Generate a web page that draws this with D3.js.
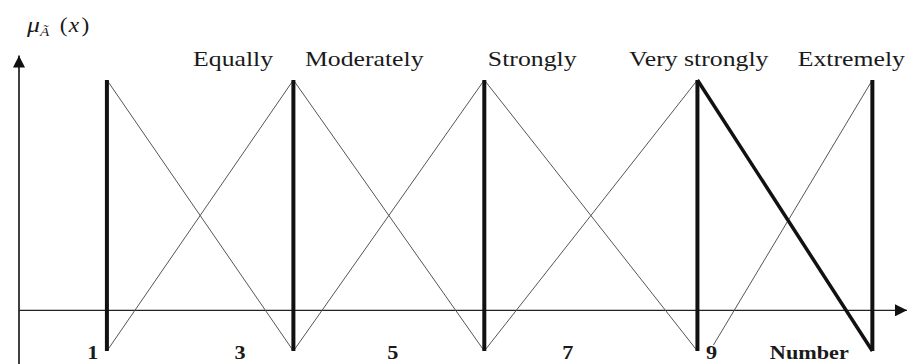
<!DOCTYPE html>
<html>
<head>
<meta charset="utf-8">
<script src="https://cdn.jsdelivr.net/npm/d3@7"></script>
<style>
  body { margin: 0; background: #fff; }
  svg { display: block; }
  text { font-family: "Liberation Serif", "Times New Roman", serif; fill: #1a1a1a; }
</style>
</head>
<body>
<svg id="chart"></svg>
<script>
// peaks of the triangular fuzzy numbers (x units)
const peaks = [0.99, 3.09, 5.24, 7.64, 9.61]
// start of the last rising side (it does not start at the previous peak)
const lastRiseStart = [7.82, 0.022]
// top labels (linguistic terms) and where they begin
const terms = ['Equally', 'Moderately', 'Strongly', 'Very strongly', 'Extremely']
const termX = [1.96, 3.22, 5.28, 6.87, 8.77]
// bottom labels
const numbers = ['1', '3', '5', '7', '9', 'Number']
const numberX = [0.83, 2.49, 4.21, 6.18, 7.80, 8.90]

const width = 908
const height = 364
const stretch = 1.17 // the picture is stretched horizontally

const x = d3.scaleLinear().domain([0, 10]).range([19, 907])
const y = d3.scaleLinear().domain([0, 1]).range([351, 80])
const axisLevel = 0.15 // membership value where the x axis is drawn

const svg = d3.select('#chart')
  .attr('width', width)
  .attr('height', height)

// arrow head
svg.append('defs').append('marker')
  .attr('id', 'arrow')
  .attr('viewBox', '0 0 10 10')
  .attr('refX', 10)
  .attr('refY', 5)
  .attr('markerWidth', 12)
  .attr('markerHeight', 12)
  .attr('markerUnits', 'userSpaceOnUse')
  .attr('orient', 'auto')
  .append('path')
  .attr('d', 'M0,0 L10,5 L0,10 Z')
  .attr('fill', '#111')

// axes
svg.append('line')
  .attr('x1', x(0)).attr('x2', x(0))
  .attr('y1', height).attr('y2', y(1.09))
  .attr('stroke', '#111').attr('stroke-width', 1.6)
  .attr('marker-end', 'url(#arrow)')

svg.append('line')
  .attr('x1', x(0)).attr('x2', x(10))
  .attr('y1', y(axisLevel)).attr('y2', y(axisLevel))
  .attr('stroke', '#222').attr('stroke-width', 1.4)
  .attr('marker-end', 'url(#arrow)')

// thin sides of the triangles
const thin = []
for (let i = 0; i < peaks.length - 2; i++) {
  thin.push([[peaks[i], 1], [peaks[i + 1], 0]])
  thin.push([[peaks[i], 0], [peaks[i + 1], 1]])
}
thin.push([lastRiseStart, [peaks[4], 1]])

const line = d3.line().x(d => x(d[0])).y(d => y(d[1]))

svg.selectAll('.side')
  .data(thin)
  .enter()
  .append('path')
  .attr('class', 'side')
  .attr('d', line)
  .attr('fill', 'none')
  .attr('stroke', '#555')
  .attr('stroke-width', 1)

// thick falling side of the last one
svg.append('path')
  .attr('d', line([[peaks[3], 1], [peaks[4], 0]]))
  .attr('fill', 'none')
  .attr('stroke', '#111')
  .attr('stroke-width', 3.5)

// thick verticals at the peaks
svg.selectAll('.peak')
  .data(peaks)
  .enter()
  .append('line')
  .attr('class', 'peak')
  .attr('x1', d => x(d)).attr('x2', d => x(d))
  .attr('y1', y(0)).attr('y2', y(1))
  .attr('stroke', '#111')
  .attr('stroke-width', 4)

// top labels
svg.selectAll('.term')
  .data(terms)
  .enter()
  .append('text')
  .attr('class', 'term')
  .attr('transform', (d, i) => 'translate(' + x(termX[i]) + ',66) scale(' + stretch + ',1)')
  .attr('font-size', 22)
  .text(d => d)

// bottom labels
svg.selectAll('.num')
  .data(numbers)
  .enter()
  .append('text')
  .attr('class', 'num')
  .attr('text-anchor', 'middle')
  .attr('transform', (d, i) => 'translate(' + x(numberX[i]) + ',359) scale(' + stretch + ',1)')
  .attr('font-size', 19)
  .attr('font-weight', 'bold')
  .text(d => d)

// y label
const mu = svg.append('text')
  .attr('transform', 'translate(27,32) scale(' + stretch + ',1)')
  .attr('font-size', 22)
mu.append('tspan').attr('font-style', 'italic').text('μ')
mu.append('tspan').attr('font-style', 'italic').attr('font-size', 13).attr('dy', 4).text('Ã')
mu.append('tspan').attr('dy', -4).attr('dx', 9).attr('font-size', 20).text('(')
mu.append('tspan').attr('font-style', 'italic').attr('font-size', 20).attr('dx', 1).text('x')
mu.append('tspan').attr('font-size', 20).attr('dx', 2).text(')')
</script>
</body>
</html>
